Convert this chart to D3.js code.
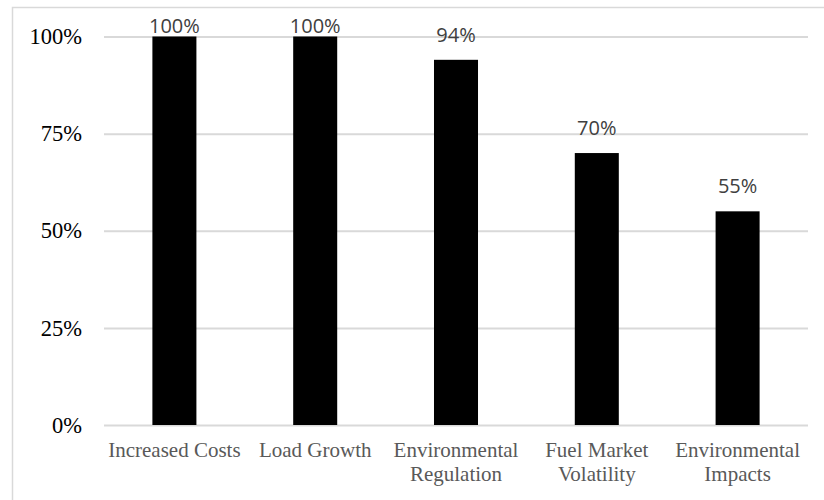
<!DOCTYPE html>
<html><head><meta charset="utf-8">
<script src="https://cdn.jsdelivr.net/npm/d3@7"></script>
<style>body{margin:0;background:#fff}</style>
</head><body>
<script>
const categories = [["Increased Costs"], ["Load Growth"], ["Environmental", "Regulation"], ["Fuel Market", "Volatility"], ["Environmental", "Impacts"]];
const values = [100, 100, 94, 70, 55];
const yTicks = [0, 25, 50, 75, 100];

(function() {
const W = 824, H = 500;
const svg = d3.select("body").append("svg").attr("width", W).attr("height", H);
svg.append("rect").attr("x", 12.5).attr("y", 7.5).attr("width", 830).attr("height", 510)
  .attr("fill", "none").attr("stroke", "#d9d9d9").attr("stroke-width", 1.5);

const mLeft = 104, mRight = 808, mTop = 36.5, mBottom = 425;
const keys = categories.map((c, i) => i);
const x = d3.scaleBand().domain(keys).range([mLeft, mRight]).paddingInner(0.6874).paddingOuter(0.3437);
const y = d3.scaleLinear().domain([0, 100]).range([mBottom, mTop]);

const yAxis = d3.axisLeft(y).tickValues(yTicks).tickSize(-(mRight - mLeft)).tickFormat(d => d + "%").tickPadding(22);
const ga = svg.append("g").attr("transform", `translate(${mLeft},0)`).call(yAxis);
ga.select(".domain").remove();
ga.selectAll(".tick line").attr("stroke", "#d9d9d9").attr("stroke-width", 2);
ga.selectAll(".tick text").attr("font-family", "Liberation Serif, Times New Roman, serif")
  .attr("font-size", 22.5).attr("fill", "#000");

svg.append("g").selectAll("rect").data(values).join("rect")
  .attr("x", (d, i) => x(i)).attr("width", x.bandwidth())
  .attr("y", d => y(d)).attr("height", d => y(0) - y(d)).attr("fill", "#000");

// labels sit above the bar, but are kept inside the chart area at the top
svg.append("g").selectAll("text").data(values).join("text")
  .attr("x", (d, i) => x(i) + x.bandwidth() / 2).attr("y", d => Math.max(y(d) - 18, mTop - 3.5))
  .attr("text-anchor", "middle").attr("font-family", "Open Sans, sans-serif")
  .attr("font-size", 20).attr("fill", "#404040").text(d => d + "%");

const xl = svg.append("g").selectAll("text").data(categories).join("text")
  .attr("text-anchor", "middle").attr("font-family", "Liberation Serif, Times New Roman, serif")
  .attr("font-size", 21).attr("fill", "#595959");
xl.each(function(lines, i) {
  d3.select(this).selectAll("tspan").data(lines).join("tspan")
    .attr("x", x(i) + x.bandwidth() / 2).attr("y", (l, j) => 457 + j * 24).text(l => l);
});
})();
</script>
</body></html>
